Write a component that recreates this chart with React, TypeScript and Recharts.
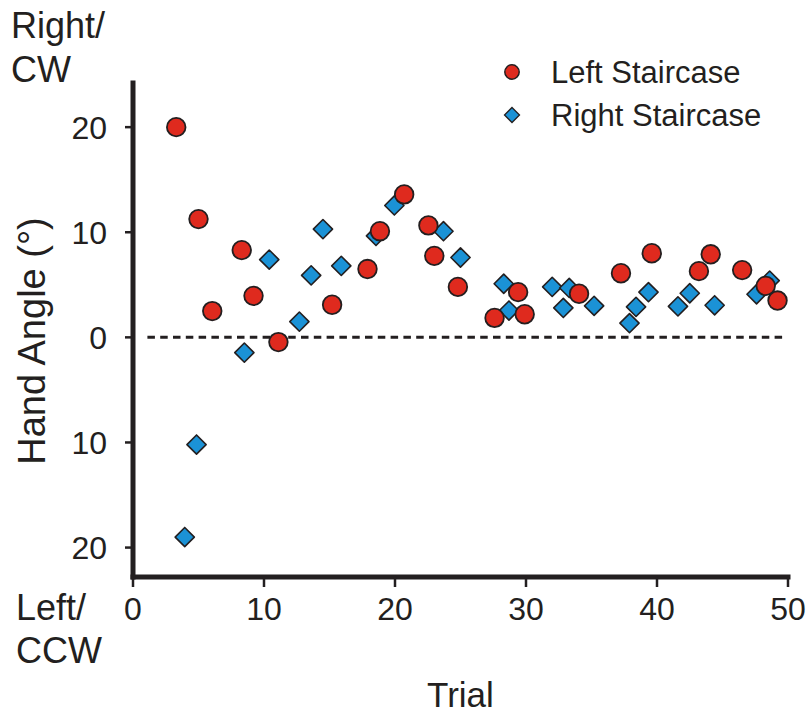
import {
  ScatterChart,
  Scatter,
  XAxis,
  YAxis,
  ReferenceLine,
  Legend,
  Label,
} from "recharts";

// trial number / hand angle (deg, + = right/CW)
const leftTrial = [
  3.3, 5.0, 6.05, 8.3, 9.2, 11.1, 15.2, 17.9, 18.85, 20.7, 22.55, 23.0, 24.8,
  27.6, 29.4, 29.9, 34.05, 37.25, 39.6, 43.2, 44.1, 46.5, 48.3, 49.2,
];
const leftAngle = [
  20.0, 11.25, 2.5, 8.3, 3.95, -0.45, 3.1, 6.5, 10.1, 13.6, 10.65, 7.75, 4.8,
  1.85, 4.3, 2.2, 4.15, 6.1, 8.0, 6.3, 7.9, 6.4, 4.9, 3.5,
];
const rightTrial = [
  3.95, 4.85, 8.5, 10.4, 12.7, 13.6, 14.5, 15.9, 18.55, 19.95, 23.7, 25.0, 28.3,
  28.7, 32.0, 32.85, 33.3, 35.2, 37.9, 38.4, 39.35, 41.6, 42.5, 44.4, 47.6, 48.6,
];
const rightAngle = [
  -19.0, -10.2, -1.45, 7.4, 1.5, 5.9, 10.3, 6.8, 9.65, 12.55, 10.1, 7.6, 5.1,
  2.55, 4.8, 2.8, 4.7, 3.0, 1.35, 2.9, 4.3, 2.95, 4.2, 3.05, 4.1, 5.4,
];

const xTicks = [0, 10, 20, 30, 40, 50];
const yTicks = [-20, -10, 0, 10, 20];
const seriesNames = ["Left Staircase", "Right Staircase"];

const INK = "#231f20";
const RED = "#df2a1e";
const BLUE = "#1b92d6";
const FONT = '"Liberation Sans", Arial, Helvetica, sans-serif';

const leftData = leftTrial.map((trial, i) => ({ trial, angle: leftAngle[i] }));
const rightData = rightTrial.map((trial, i) => ({ trial, angle: rightAngle[i] }));

function CircleDot(props: any) {
  const { cx, cy } = props;
  if (cx == null || cy == null) return null;
  return <circle cx={cx} cy={cy} r={9.3} fill={RED} stroke={INK} strokeWidth={1.8} />;
}

function DiamondDot(props: any) {
  const { cx, cy } = props;
  if (cx == null || cy == null) return null;
  const h = 9.6;
  return (
    <path
      d={`M${cx},${cy - h}L${cx + h},${cy}L${cx},${cy + h}L${cx - h},${cy}Z`}
      fill={BLUE}
      stroke={INK}
      strokeWidth={1.6}
      strokeLinejoin="round"
    />
  );
}

function StairLegend() {
  return (
    <div style={{ width: 300, fontFamily: FONT, fontSize: 31, color: INK }}>
      {seriesNames.map((name, i) => (
        <div key={name} style={{ display: "flex", alignItems: "center", height: 43 }}>
          <svg width={24} height={24}>
            {i === 0 ? (
              <circle cx={12} cy={12} r={7.2} fill={RED} stroke={INK} strokeWidth={1.5} />
            ) : (
              <path d="M12,4.5L19.5,12L12,19.5L4.5,12Z" fill={BLUE} stroke={INK} strokeWidth={1.3} />
            )}
          </svg>
          <span style={{ marginLeft: 27, lineHeight: "43px" }}>{name}</span>
        </div>
      ))}
    </div>
  );
}

function HandAngleTitle(props: any) {
  const vb = props.viewBox || { x: 0, y: 83, width: 133, height: 494 };
  const x = vb.x + 45;
  const y = vb.y + vb.height / 2 + 11;
  return (
    <text
      x={x}
      y={y}
      transform={`rotate(-90 ${x} ${y})`}
      textAnchor="middle"
      fontFamily={FONT}
      fontSize={38}
      fill={INK}
    >
      Hand Angle (°)
    </text>
  );
}

export default function App() {
  const tickStyle = { fill: INK, fontSize: 32, fontFamily: FONT };
  return (
    <div style={{ position: "relative", width: 807, height: 715, background: "#fff" }}>
      <style>{"body{margin:0}"}</style>
      <ScatterChart
        width={807}
        height={715}
        margin={{ top: 83, right: 19, bottom: 0, left: 0 }}
      >
        <XAxis
          type="number"
          dataKey="trial"
          domain={[0, 50]}
          ticks={xTicks}
          allowDataOverflow
          height={138}
          tickSize={10}
          tickMargin={10}
          tick={tickStyle}
          axisLine={{ stroke: INK, strokeWidth: 5, strokeLinecap: "square" }}
          tickLine={{ stroke: INK, strokeWidth: 2.5 }}
        >
          <Label
            value="Trial"
            position="insideBottom"
            offset={8}
            style={{ fontFamily: FONT, fontSize: 35, fill: INK }}
          />
        </XAxis>
        <YAxis
          type="number"
          dataKey="angle"
          domain={[-22.8, 24.2]}
          ticks={yTicks}
          allowDataOverflow
          width={133}
          tickSize={8}
          tickMargin={18}
          tick={tickStyle}
          tickFormatter={(v: number) => String(Math.abs(v))}
          axisLine={{ stroke: INK, strokeWidth: 5, strokeLinecap: "square" }}
          tickLine={{ stroke: INK, strokeWidth: 2.5 }}
        >
          <Label content={HandAngleTitle} />
        </YAxis>
        <ReferenceLine
          segment={[
            { x: 1.1, y: 0 },
            { x: 49.6, y: 0 },
          ]}
          stroke={INK}
          strokeWidth={3}
          strokeDasharray="7.5 5.3"
        />
        <Legend
          layout="vertical"
          align="center"
          verticalAlign="middle"
          wrapperStyle={{ top: 50.5, left: 500, width: 300 }}
          content={StairLegend}
        />
        <Scatter
          name={seriesNames[1]}
          data={rightData}
          shape={DiamondDot}
          isAnimationActive={false}
        />
        <Scatter
          name={seriesNames[0]}
          data={leftData}
          shape={CircleDot}
          isAnimationActive={false}
        />
      </ScatterChart>
      <svg
        width={807}
        height={715}
        style={{ position: "absolute", left: 0, top: 0, pointerEvents: "none" }}
        fontFamily={FONT}
        fontSize={36}
        fill={INK}
      >
        <text x={11} y={38}>Right/</text>
        <text x={11} y={82}>CW</text>
        <text x={16} y={620}>Left/</text>
        <text x={16} y={663}>CCW</text>
      </svg>
    </div>
  );
}
